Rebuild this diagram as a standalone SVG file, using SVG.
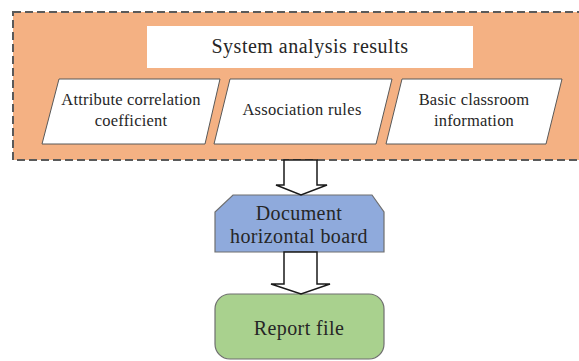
<svg xmlns="http://www.w3.org/2000/svg" width="579" height="361" viewBox="0 0 579 361">
  <style>
    .lbl { font-family: "Liberation Serif", "Times New Roman", serif; fill: #262626; text-anchor: middle; }
    .para { fill: #ffffff; stroke: #595959; stroke-width: 1; }
    .block { fill: #ffffff; stroke: #1a1a1a; stroke-width: 1.5; stroke-linejoin: miter; }
  </style>
  <rect width="579" height="361" fill="#ffffff"/>

  <!-- analysis results container -->
  <g id="results">
    <rect x="13" y="12" width="580" height="148" fill="#f4b183" stroke="#5a5a5a" stroke-width="2" stroke-dasharray="8,4"/>
    <rect x="147" y="26" width="326" height="42" fill="#ffffff"/>
    <text class="lbl" x="310" y="53" font-size="20" letter-spacing="0.5">System analysis results</text>
  </g>

  <g id="attribute-correlation">
    <polygon class="para" points="59,79 220,79 205,144 42,144"/>
    <text class="lbl" x="131" y="105" font-size="16.5" letter-spacing="0.2">Attribute correlation</text>
    <text class="lbl" x="131" y="126" font-size="16.5" letter-spacing="0.2">coefficient</text>
  </g>

  <g id="association-rules">
    <polygon class="para" points="230,79 392,79 376,144 214,144"/>
    <text class="lbl" x="302" y="115" font-size="16.5" letter-spacing="0.3">Association rules</text>
  </g>

  <g id="classroom-info">
    <polygon class="para" points="402,79 562,79 546,144 386,144"/>
    <text class="lbl" x="474" y="105" font-size="16.5" letter-spacing="0.2">Basic classroom</text>
    <text class="lbl" x="474" y="126" font-size="16.5" letter-spacing="0.2">information</text>
  </g>

  <g id="document-board">
    <polygon points="233,195 372,195 384,212 384,252 215,252 215,212" fill="#8faadc" stroke="#6f6f6f" stroke-width="1.2"/>
    <text class="lbl" x="299" y="220" font-size="20" letter-spacing="0.4">Document</text>
    <text class="lbl" x="299" y="243" font-size="20" letter-spacing="0.4">horizontal board</text>
  </g>

  <g id="report-file">
    <rect x="215" y="294" width="169" height="65" rx="15" fill="#a9d18e" stroke="#6f6f6f" stroke-width="1.2"/>
    <text class="lbl" x="299" y="335" font-size="20" letter-spacing="0.4">Report file</text>
  </g>

  <!-- hollow block arrows between stages -->
  <g id="connectors">
    <polygon class="block" points="284,160 317,160 317,185 327,185 301,195 276,185 284,185"/>
    <polygon class="block" points="284,252 317,252 317,284 330,284 301,294 271,284 284,284"/>
  </g>
</svg>
